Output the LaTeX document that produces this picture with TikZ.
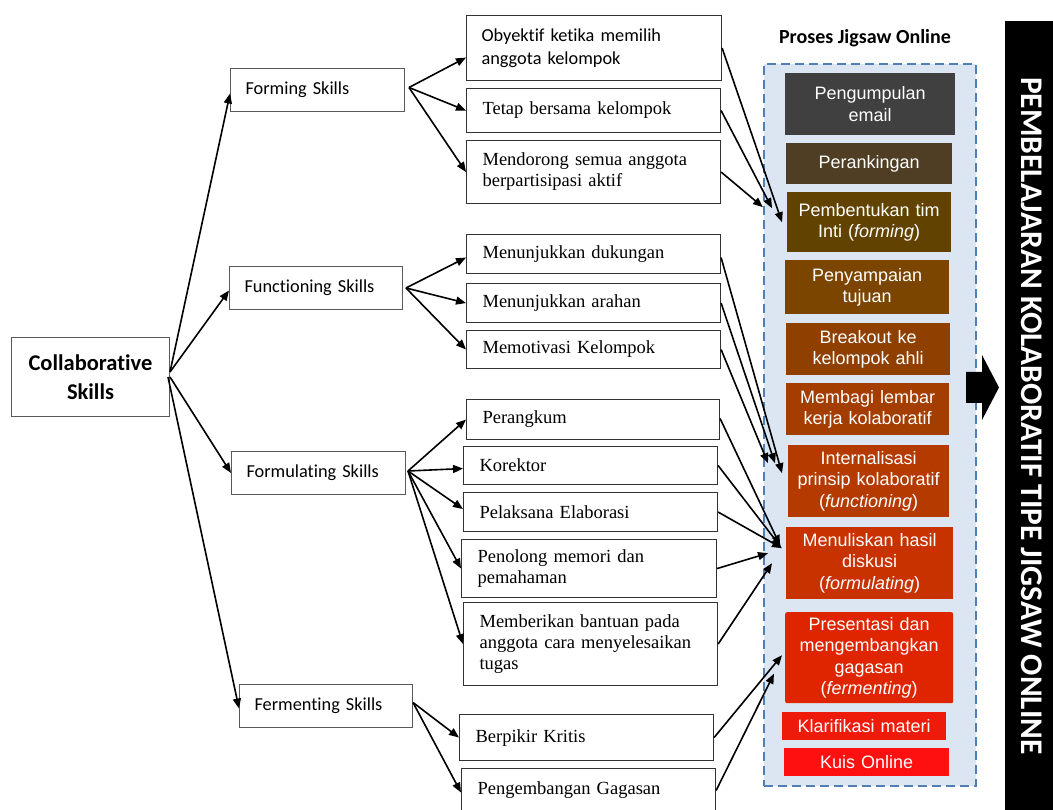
\documentclass[tikz,border=0pt]{standalone}
\usepackage{fontspec}
\setmainfont{Liberation Serif}
\newfontfamily\carlito[Ligatures=NoCommon]{Carlito}
\newfontfamily\arialf{Liberation Sans}
\usetikzlibrary{arrows.meta,calc}
\definecolor{c1}{HTML}{404040}
\definecolor{c2}{HTML}{4F3E23}
\definecolor{c3}{HTML}{614200}
\definecolor{c4}{HTML}{7B4500}
\definecolor{c5}{HTML}{8F4000}
\definecolor{c6}{HTML}{A33D00}
\definecolor{c7}{HTML}{B53A00}
\definecolor{c8}{HTML}{C83100}
\definecolor{c9}{HTML}{DF2400}
\definecolor{c10}{HTML}{EE1A0A}
\definecolor{c11}{HTML}{FF1010}
\definecolor{panelfill}{HTML}{DCE6F2}
\definecolor{paneldraw}{HTML}{4F7FB5}
\begin{document}
\begin{tikzpicture}[x=1pt,y=-1pt,
  skillbox/.style={draw=black!65, line width=1pt, rectangle, anchor=north west, inner xsep=15pt, inner ysep=0pt, align=left, font=\carlito\fontsize{18.3}{22}\selectfont},
  itembox/.style={draw=black!80, line width=1.1pt, rectangle, anchor=north west, inner xsep=16pt, inner ysep=0pt, align=left, font=\fontsize{18.5}{21}\selectfont},
  procbox/.style={rectangle, anchor=north west, inner xsep=2pt, inner ysep=0pt, align=center, text=white, font=\arialf\fontsize{18}{21.5}\selectfont},
  conn/.style={line width=1.6pt, -{Triangle[length=10pt,width=8pt]}},
]
\useasboundingbox (0,0) rectangle (1053,810);

% right panel
\node[anchor=north west, draw=paneldraw, fill=panelfill, line width=1.7pt, dash pattern=on 9pt off 5pt, minimum width=212pt, minimum height=722pt, inner sep=0pt] (panel) at (763,63) {};
\node[font=\carlito\bfseries\fontsize{20}{22}\selectfont] (title) at (865,38) {Proses Jigsaw Online};

\node[procbox, fill=c1, minimum width=170pt, text width=166pt, minimum height=62pt] (p1) at (785,73) {Pengumpulan\\email};
\node[procbox, fill=c2, minimum width=166pt, text width=162pt, minimum height=41pt] (p2) at (786,143) {Perankingan};
\node[procbox, fill=c3, minimum width=164pt, text width=160pt, minimum height=60pt] (p3) at (787,192) {Pembentukan tim\\Inti (\textit{forming})};
\node[procbox, fill=c4, minimum width=164pt, text width=160pt, minimum height=54pt] (p4) at (785,260) {Penyampaian\\tujuan};
\node[procbox, fill=c5, minimum width=164pt, text width=160pt, minimum height=52pt] (p5) at (786,323) {Breakout ke\\kelompok ahli};
\node[procbox, fill=c6, minimum width=163pt, text width=159pt, minimum height=52pt] (p6) at (786,383) {Membagi lembar\\kerja kolaboratif};
\node[procbox, fill=c7, minimum width=161pt, text width=157pt, minimum height=72pt] (p7) at (788,445) {Internalisasi\\prinsip kolaboratif\\(\textit{functioning})};
\node[procbox, fill=c8, minimum width=167pt, text width=163pt, minimum height=72pt] (p8) at (786,527) {Menuliskan hasil\\diskusi\\(\textit{formulating})};
\node[procbox, fill=c9, rounded corners=2pt, minimum width=168pt, text width=164pt, minimum height=91pt] (p9) at (785,612) {Presentasi dan\\mengembangkan\\gagasan\\(\textit{fermenting})};
\node[procbox, fill=c10, minimum width=164pt, text width=160pt, minimum height=28pt] (p10) at (782,712) {Klarifikasi materi};
\node[procbox, fill=c11, minimum width=165pt, text width=161pt, minimum height=28pt] (p11) at (784,748) {Kuis Online};

% black bar
\node[anchor=north west, fill=black, minimum width=50pt, minimum height=790pt, inner sep=0pt] (bar) at (1005,21) {};
\node[rotate=-90, text=white, inner sep=0pt, font=\carlito\bfseries\fontsize{31.5}{34}\selectfont] (bartext) at (1032,416) {PEMBELAJARAN KOLABORATIF TIPE JIGSAW ONLINE};
\fill (966,372) -- (982,372) -- (982,355) -- (999,387.5) -- (982,420) -- (982,403) -- (966,403) -- cycle;

% left boxes
\node[skillbox, align=center, font=\carlito\bfseries\fontsize{22.5}{29}\selectfont, minimum width=158pt, text width=128pt, minimum height=79pt] (collab) at (11,337) {Collaborative\\Skills};
\node[skillbox, minimum width=174pt, text width=144pt, minimum height=43pt] (forming) at (230,68) {Forming Skills};
\node[skillbox, minimum width=173pt, text width=143pt, minimum height=43pt] (functioning) at (229,266) {Functioning Skills};
\node[skillbox, minimum width=174pt, text width=144pt, minimum height=43pt] (formulating) at (231,451) {Formulating Skills};
\node[skillbox, minimum width=173pt, text width=143pt, minimum height=43pt] (fermenting) at (239,684) {Fermenting Skills};

% middle boxes
\node[skillbox, draw=black!80, line width=1.1pt, font=\carlito\fontsize{18.3}{23}\selectfont, minimum width=255pt, text width=225pt, minimum height=65pt] (obyektif) at (466,15) {Obyektif ketika memilih\\anggota kelompok};
\node[itembox, minimum width=254pt, text width=222pt, minimum height=44pt] (tetap) at (466,88) {Tetap bersama kelompok};
\node[itembox, minimum width=254pt, text width=222pt, minimum height=63pt] (mendorong) at (466,140) {Mendorong semua anggota\\berpartisipasi aktif};
\node[itembox, minimum width=254pt, text width=222pt, minimum height=39pt] (dukungan) at (466,234) {Menunjukkan dukungan};
\node[itembox, minimum width=254pt, text width=222pt, minimum height=39pt] (arahan) at (466,283) {Menunjukkan arahan};
\node[itembox, minimum width=254pt, text width=222pt, minimum height=38pt] (memotivasi) at (466,330) {Memotivasi Kelompok};
\node[itembox, minimum width=253pt, text width=221pt, minimum height=40pt] (perangkum) at (466,399) {Perangkum};
\node[itembox, minimum width=254pt, text width=222pt, minimum height=38pt] (korektor) at (463,446) {Korektor};
\node[itembox, minimum width=254pt, text width=222pt, minimum height=39pt] (pelaksana) at (463,492) {Pelaksana Elaborasi};
\node[itembox, minimum width=255pt, text width=223pt, minimum height=58pt] (penolong) at (461,539) {Penolong memori dan\\pemahaman};
\node[itembox, minimum width=254pt, text width=222pt, minimum height=83pt] (memberikan) at (463,602) {Memberikan bantuan pada\\anggota cara menyelesaikan\\tugas};
\node[itembox, minimum width=254pt, text width=222pt, minimum height=46pt] (berpikir) at (459,714) {Berpikir Kritis};
\node[itembox, minimum width=254pt, text width=222pt, minimum height=44pt] (pengembangan) at (461,768) {Pengembangan Gagasan};

% connectors from collab
\draw[conn] ([yshift=5pt]collab.east) -- ([yshift=-3.5pt]forming.west);
\draw[conn] ([yshift=5pt]collab.east) -- ([yshift=-2.5pt]functioning.west);
\draw[conn] ([yshift=0pt]collab.east) -- (formulating.west);
\draw[conn] ([xshift=-2pt]collab.east) -- ([yshift=-2.5pt]fermenting.west);

% forming
\draw[conn] ([xshift=4pt,yshift=2.5pt]forming.east) -- ([yshift=-9.5pt]obyektif.west);
\draw[conn] ([xshift=4pt,yshift=2.5pt]forming.east) -- (tetap.west);
\draw[conn] ([xshift=4pt,yshift=2.5pt]forming.east) -- (mendorong.west);
% functioning
\draw[conn] ([xshift=3pt]functioning.east) -- ([yshift=-3.5pt]dukungan.west);
\draw[conn] ([xshift=3pt]functioning.east) -- (arahan.west);
\draw[conn] ([xshift=3pt]functioning.east) -- (memotivasi.west);
% formulating
\draw[conn] ([xshift=2pt,yshift=2pt]formulating.east) -- (perangkum.west);
\draw[conn] ([xshift=2pt,yshift=2pt]formulating.east) -- ([yshift=-3pt]korektor.west);
\draw[conn] ([xshift=2pt,yshift=2pt]formulating.east) -- ([yshift=3pt]pelaksana.west);
\draw[conn] ([xshift=2pt,yshift=2pt]formulating.east) -- (penolong.west);
\draw[conn] ([xshift=2pt,yshift=2pt]formulating.east) -- (memberikan.west);
% fermenting
\draw[conn] ([yshift=3.5pt]fermenting.east) -- (berpikir.west);
\draw[conn] ([yshift=3.5pt]fermenting.east) -- ([yshift=-2pt]pengembangan.west);

% to process
\draw[conn] (obyektif.east) -- ([xshift=-5pt]p3.west);
\draw[conn] (tetap.east) -- ([xshift=-15pt,yshift=14pt]p3.west);
\draw[conn] (mendorong.east) -- ([xshift=-24pt,yshift=15pt]p3.west);

\draw[conn] ([yshift=-3.5pt]dukungan.east) -- ([xshift=-6pt,yshift=8pt]p7.west);
\draw[conn] (arahan.east) -- ([xshift=-13pt,yshift=18pt]p7.west);
\draw[conn] (memotivasi.east) -- ([xshift=-20pt,yshift=18pt]p7.west);

\draw[conn] ([yshift=1pt]perangkum.east) -- ([xshift=-6pt,yshift=18pt]p8.west);
\draw[conn] (korektor.east) -- ([xshift=-5pt,yshift=16pt]p8.west);
\draw[conn] (pelaksana.east) -- ([xshift=-4pt,yshift=15pt]p8.west);
\draw[conn] (penolong.east) -- ([xshift=-18pt,yshift=10pt]p8.west);
\draw[conn] (memberikan.east) -- ([xshift=-14pt]p8.west);

\draw[conn] (berpikir.east) -- ([xshift=-3pt,yshift=2.5pt]p9.west);
\draw[conn] (pengembangan.east) -- ([xshift=-11pt,yshift=-16pt]p9.west);
\end{tikzpicture}
\end{document}
